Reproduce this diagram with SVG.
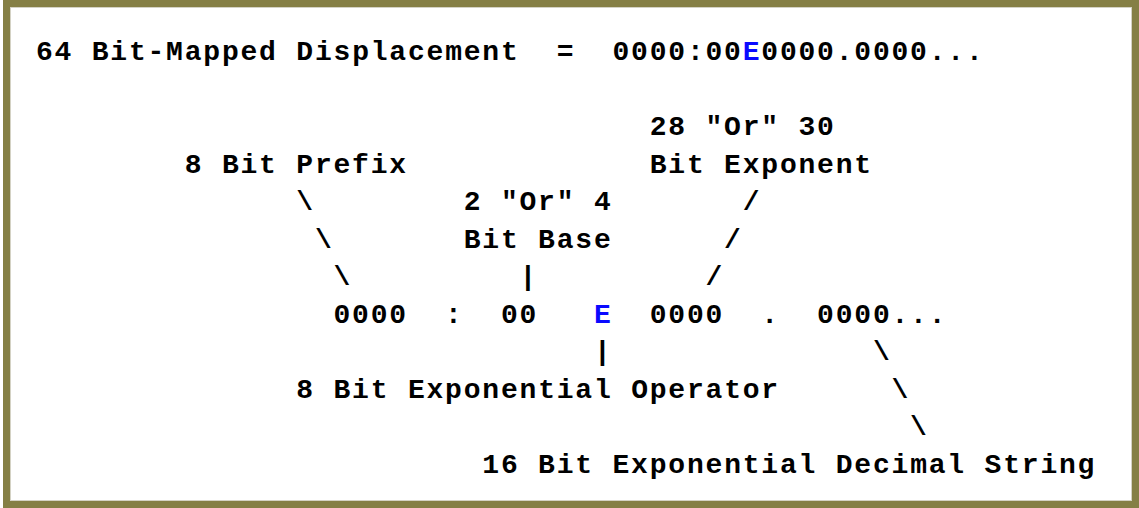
<svg xmlns="http://www.w3.org/2000/svg" width="1139" height="508" viewBox="0 0 1139 508">
  <style>
    .t { font-family: "Liberation Mono", "DejaVu Sans Mono", monospace; font-weight: bold; font-size: 28px; letter-spacing: 1.8px; fill: #000000; }
    .e { fill: #0a0aff; }
  </style>
  <rect x="0" y="0" width="1139" height="508" fill="#ffffff"/>
  <g id="frame">
    <rect x="6.5" y="3.5" width="1129" height="501" fill="none" stroke="#857f45" stroke-width="7"/>
    <rect x="10.5" y="7.5" width="1121" height="493" fill="none" stroke="#d4d2c4" stroke-width="1"/>
  </g>
  <g id="title">
    <text class="t" x="35.9" y="60">64 Bit-Mapped Displacement</text>
    <text class="t" x="556.7" y="60">=</text>
    <text class="t" x="612.5" y="60">0000:00</text>
    <text class="t e" x="742.7" y="60">E</text>
    <text class="t" x="761.3" y="60">0000.0000...</text>
  </g>
  <g id="prefix-label">
    <text class="t" x="184.7" y="172.5">8 Bit Prefix</text>
  </g>
  <g id="exponent-label">
    <text class="t" x="649.7" y="135">28 "Or" 30</text>
    <text class="t" x="649.7" y="172.5">Bit Exponent</text>
  </g>
  <g id="base-label">
    <text class="t" x="463.7" y="210">2 "Or" 4</text>
    <text class="t" x="463.7" y="247.5">Bit Base</text>
  </g>
  <g id="breakdown">
    <text class="t" x="333.5" y="322.5">0000</text>
    <text class="t" x="445.1" y="322.5">:</text>
    <text class="t" x="500.9" y="322.5">00</text>
    <text class="t e" x="593.9" y="322.5">E</text>
    <text class="t" x="649.7" y="322.5">0000</text>
    <text class="t" x="761.3" y="322.5">.</text>
    <text class="t" x="817.1" y="322.5">0000...</text>
  </g>
  <g id="operator-label">
    <text class="t" x="296.3" y="397.5">8 Bit Exponential Operator</text>
  </g>
  <g id="decimal-label">
    <text class="t" x="482.3" y="472.5">16 Bit Exponential Decimal String</text>
  </g>
  <g id="connectors">
    <text class="t" x="296.3" y="210">\</text>
    <text class="t" x="314.9" y="247.5">\</text>
    <text class="t" x="333.5" y="285">\</text>
    <text class="t" x="519.5" y="285">|</text>
    <text class="t" x="742.7" y="210">/</text>
    <text class="t" x="724.1" y="247.5">/</text>
    <text class="t" x="705.5" y="285">/</text>
    <text class="t" x="593.9" y="360">|</text>
    <text class="t" x="872.9" y="360">\</text>
    <text class="t" x="891.5" y="397.5">\</text>
    <text class="t" x="910.1" y="435">\</text>
  </g>
</svg>
